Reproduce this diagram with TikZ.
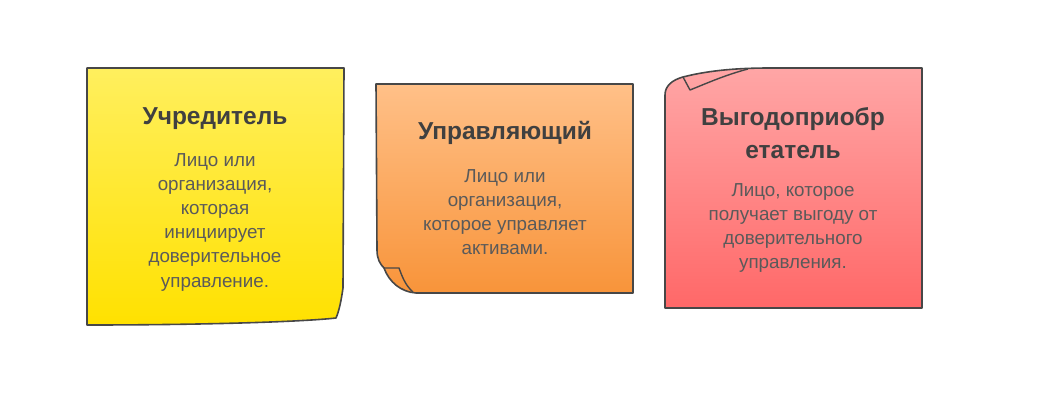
\documentclass[tikz,border=0pt]{standalone}
\usepackage{fontspec}
\setmainfont{Liberation Sans}
\definecolor{edgegray}{HTML}{474747}
\definecolor{titlegray}{HTML}{404040}
\definecolor{bodygray}{HTML}{5A5A5A}
\definecolor{yellowtop}{HTML}{FFEF5E}
\definecolor{yellowbot}{HTML}{FFE100}
\definecolor{orangetop}{HTML}{FFC088}
\definecolor{orangebot}{HTML}{F8943A}
\definecolor{redtop}{HTML}{FFA6A6}
\definecolor{redbot}{HTML}{FF6868}
\tikzset{
  note/.style={draw=edgegray, line width=1.6pt, line join=round},
  fold/.style={draw=edgegray, line width=1.4pt, line join=round},
  title/.style={text=titlegray, align=center, font=\fontsize{24.5}{33}\selectfont\bfseries},
  body/.style={text=bodygray, align=center, font=\fontsize{18.8}{24.2}\selectfont}
}

\begin{document}
\begin{tikzpicture}[x=1pt,y=-1pt]
\useasboundingbox (0,0) rectangle (1038,412);
% Notes
\draw[note, top color=yellowtop, bottom color=yellowbot] (87,68) -- (344,68) -- (343,288)
  .. controls (341,302) and (339,311) .. (336,318)
  .. controls (300,322) and (200,325) .. (87,325) -- cycle;
\draw[note, top color=orangetop, bottom color=orangebot] (376,84) -- (633,84) -- (633,293) -- (416,293)
  .. controls (401,292) and (389,282) .. (384,268)
  .. controls (380,264) and (377,259) .. (377,250) -- cycle;
\draw[fold] (384,268) -- (399,268) .. controls (402,276) and (405,285) .. (413,292);
\draw[note, top color=redtop, bottom color=redbot] (665,308) -- (665,95)
  .. controls (665,86) and (672,80) .. (683,77)
  .. controls (710,70) and (740,68) .. (770,68) -- (922,68) -- (922,308) -- cycle;
\draw[fold] (683,77) -- (690,90) .. controls (705,84) and (725,75) .. (748,69);
% Texts
\node[title] (settlor) at (215,119) {Учредитель};
\node[body] (settlordesc) at (215,222) {Лицо или\\организация,\\которая\\инициирует\\доверительное\\управление.};
\node[title] (trustee) at (505,133) {Управляющий};
\node[body] (trusteedesc) at (505,212) {Лицо или\\организация,\\которое управляет\\активами.};
\node[title] (beneficiary) at (793,133) {Выгодоприобр\\етатель};
\node[body] (beneficiarydesc) at (793,228) {Лицо, которое\\получает выгоду от\\доверительного\\управления.};
\end{tikzpicture}
\end{document}
